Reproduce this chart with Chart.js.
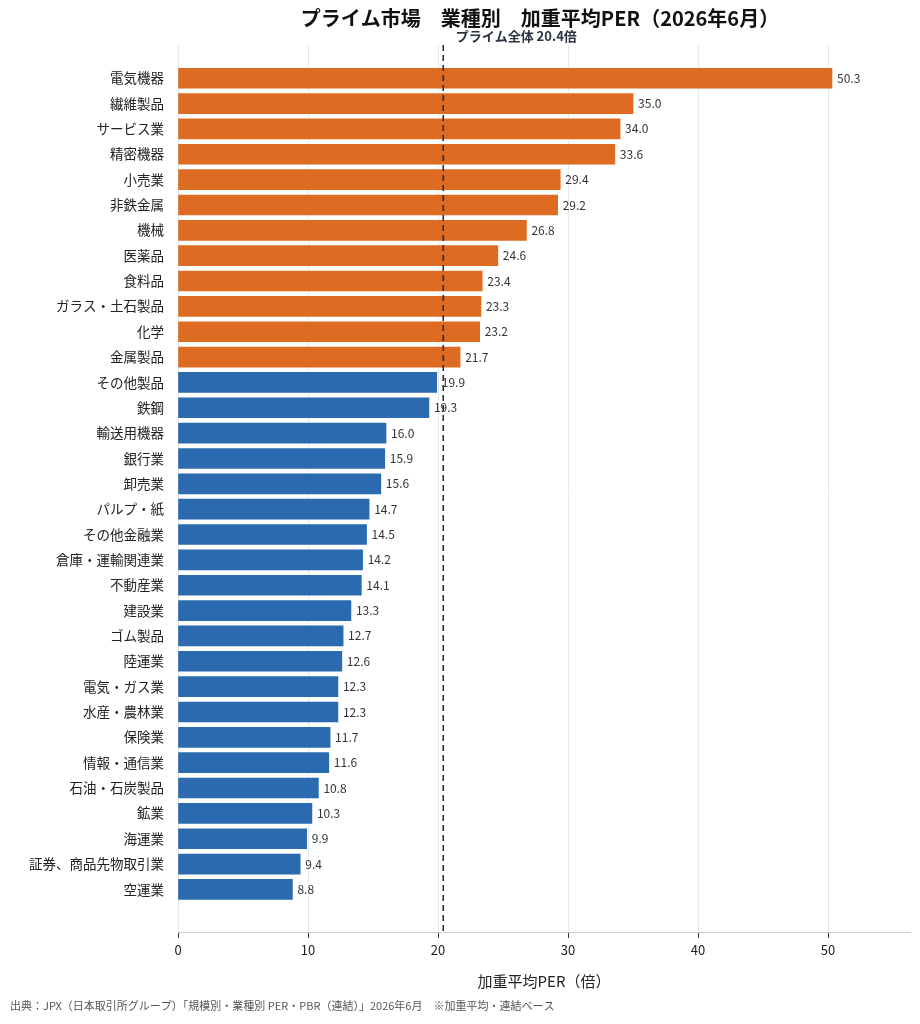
<!DOCTYPE html>
<html><head><meta charset="utf-8">
<script src="https://cdn.jsdelivr.net/npm/chart.js@4"></script>
<style>html,body{margin:0;padding:0;background:#fff}#w{width:920px;height:1024px}</style>
</head><body><div id="w"><canvas id="c"></canvas></div>
<script>
const categories = ["電気機器","繊維製品","サービス業","精密機器","小売業","非鉄金属","機械","医薬品","食料品","ガラス・土石製品","化学","金属製品","その他製品","鉄鋼","輸送用機器","銀行業","卸売業","パルプ・紙","その他金融業","倉庫・運輸関連業","不動産業","建設業","ゴム製品","陸運業","電気・ガス業","水産・農林業","保険業","情報・通信業","石油・石炭製品","鉱業","海運業","証券、商品先物取引業","空運業"];
const perValues = [50.3,35.0,34.0,33.6,29.4,29.2,26.8,24.6,23.4,23.3,23.2,21.7,19.9,19.3,16.0,15.9,15.6,14.7,14.5,14.2,14.1,13.3,12.7,12.6,12.3,12.3,11.7,11.6,10.8,10.3,9.9,9.4,8.8];
const primeAverage = 20.4;
const xTicks = [0,10,20,30,40,50];
const FONT = "'Noto Sans CJK JP','Noto Sans',sans-serif";
const ORANGE = "#DE6B22", BLUE = "#2B6AAE";

const overlay = {
  id:'overlay',
  afterDatasetsDraw(chart){
    const {ctx, scales:{x,y}, chartArea:a} = chart;
    ctx.save();
    // value labels
    ctx.font = "12px "+FONT; ctx.fillStyle="#333"; ctx.textBaseline="middle"; ctx.textAlign="left";
    perValues.forEach((v,i)=>{ ctx.fillText(v.toFixed(1), x.getPixelForValue(v)+5, y.getPixelForValue(i)); });
    // average line
    const px = x.getPixelForValue(primeAverage);
    ctx.strokeStyle="#2a2f3a"; ctx.lineWidth=1.6; ctx.setLineDash([6,4]);
    ctx.beginPath(); ctx.moveTo(px,a.top); ctx.lineTo(px,a.bottom); ctx.stroke();
    ctx.setLineDash([]);
    ctx.font="bold 13px "+FONT; ctx.fillStyle="#2a3340"; ctx.textAlign="center"; ctx.textBaseline="alphabetic";
    ctx.fillText("プライム全体 20.4倍", px+73, 41);
    // title
    ctx.font="bold 20px "+FONT; ctx.fillStyle="#111";
    ctx.fillText("プライム市場　業種別　加重平均PER（2026年6月）", 540, 26);
    // footer
    ctx.font="11px "+FONT; ctx.fillStyle="#555"; ctx.textAlign="left";
    ctx.fillText("出典：JPX（日本取引所グループ）「規模別・業種別 PER・PBR（連結）」2026年6月　※加重平均・連結ベース", 10, 1010);
    ctx.restore();
  }
};

new Chart(document.getElementById('c'), {
  type:'bar',
  data:{ datasets:[{
    data: perValues.map((v,i)=>({x:v,y:i})),
    backgroundColor: perValues.map(v=>v>primeAverage?ORANGE:BLUE),
    borderWidth:0, barThickness:20
  }]},
  options:{
    indexAxis:'y', responsive:true, maintainAspectRatio:false, animation:false,
    layout:{padding:{top:45,right:10,bottom:30,left:8}},
    plugins:{legend:{display:false},tooltip:{enabled:false}},
    scales:{
      x:{type:'linear',min:0,max:56.3,
        afterBuildTicks:s=>{s.ticks=xTicks.map(v=>({value:v}));},
        afterFit:s=>{s.height=62;},
        grid:{color:"#e3e9ec",tickLength:6,tickColor:"#333"},
        border:{display:true,color:"#c9d0d4"},
        ticks:{font:{family:FONT,size:13},color:"#222",padding:4},
        title:{display:true,text:"加重平均PER（倍）",font:{family:FONT,size:15},color:"#222",padding:{top:4}}
      },
      y:{type:'linear',min:-0.78,max:32.2+0.95,reverse:true,
        afterBuildTicks:s=>{s.ticks=categories.map((c,i)=>({value:i}));},
        afterFit:s=>{s.width=170;},
        grid:{display:false},border:{display:false},
        ticks:{autoSkip:false,font:{family:FONT,size:13.5},color:"#222",padding:6,callback:(v)=>categories[v]}
      }
    }
  },
  plugins:[overlay]
});
</script></body></html>
